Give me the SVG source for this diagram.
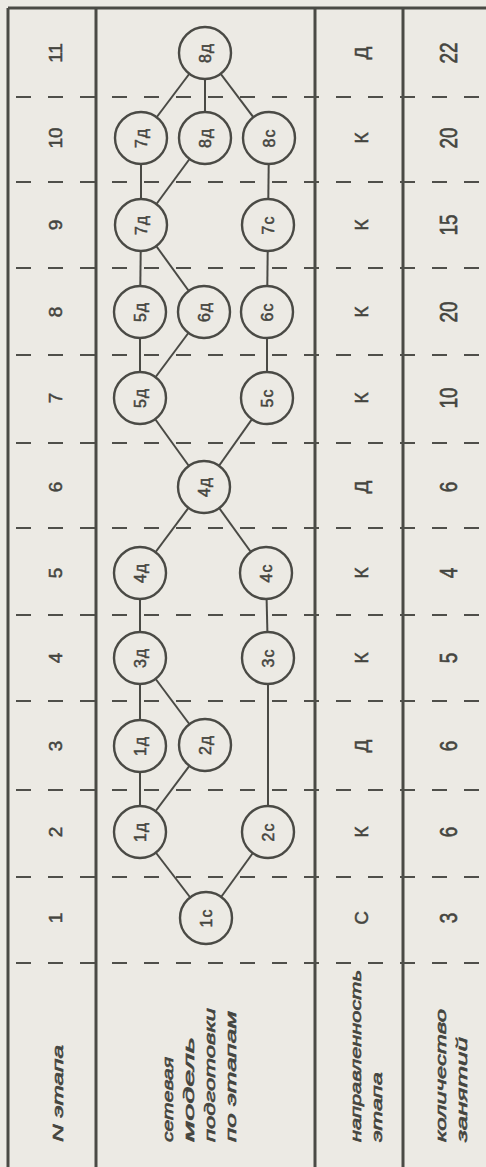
<svg xmlns="http://www.w3.org/2000/svg" width="486" height="1167" viewBox="0 0 486 1167">
<style>
.bg{fill:#eceae4}
.solid{stroke:#4a4a45;stroke-width:3;fill:none}
.dash{stroke:#4f4f4a;stroke-width:2.2;stroke-dasharray:15 17;fill:none}
.edge{stroke:#4a4a45;stroke-width:2;fill:none}
.node circle{fill:#eceae4;stroke:#4a4a45;stroke-width:2.4}
text{font-family:"Liberation Sans",Arial,sans-serif;fill:#45453f;stroke:#45453f;stroke-width:0.5;text-anchor:middle;dominant-baseline:central}
.lbl{font-size:16px;letter-spacing:1px}
.num{font-size:19px}
.dir{font-size:19px}
.cnt{font-size:19px}
.hdr{font-size:15px;font-style:italic;text-anchor:start;stroke-width:0.6}
</style>
<rect class="bg" x="0" y="0" width="486" height="1167"/>
<g id="grid">
<line class="solid" x1="8" y1="8" x2="486" y2="8"/>
<line class="solid" x1="8" y1="8" x2="8" y2="1167"/>
<line class="solid" x1="96" y1="8" x2="96" y2="1167"/>
<line class="solid" x1="315" y1="8" x2="315" y2="1167"/>
<line class="solid" x1="403" y1="8" x2="403" y2="1167"/>
<line class="dash" x1="16" y1="97" x2="486" y2="97"/>
<line class="dash" x1="16" y1="182" x2="486" y2="182"/>
<line class="dash" x1="16" y1="268" x2="486" y2="268"/>
<line class="dash" x1="16" y1="355" x2="486" y2="355"/>
<line class="dash" x1="16" y1="443" x2="486" y2="443"/>
<line class="dash" x1="16" y1="528" x2="486" y2="528"/>
<line class="dash" x1="16" y1="615" x2="486" y2="615"/>
<line class="dash" x1="16" y1="701" x2="486" y2="701"/>
<line class="dash" x1="16" y1="790" x2="486" y2="790"/>
<line class="dash" x1="16" y1="877" x2="486" y2="877"/>
<line class="dash" x1="16" y1="963" x2="486" y2="963"/>
</g>
<g id="headers">
<text class="hdr" transform="translate(57 1142) rotate(-90)" textLength="97" lengthAdjust="spacingAndGlyphs">N этапа</text>
<text class="hdr" transform="translate(167 1142) rotate(-90)" textLength="85" lengthAdjust="spacingAndGlyphs">сетевая</text>
<text class="hdr" transform="translate(188 1142) rotate(-90)" textLength="105" lengthAdjust="spacingAndGlyphs">модель</text>
<text class="hdr" transform="translate(209 1142) rotate(-90)" textLength="134" lengthAdjust="spacingAndGlyphs">подготовки</text>
<text class="hdr" transform="translate(230 1142) rotate(-90)" textLength="131" lengthAdjust="spacingAndGlyphs">по этапам</text>
<text class="hdr" transform="translate(355 1142) rotate(-90)" textLength="172" lengthAdjust="spacingAndGlyphs">направленность</text>
<text class="hdr" transform="translate(376 1142) rotate(-90)" textLength="70" lengthAdjust="spacingAndGlyphs">этапа</text>
<text class="hdr" transform="translate(440 1142) rotate(-90)" textLength="133" lengthAdjust="spacingAndGlyphs">количество</text>
<text class="hdr" transform="translate(461 1142) rotate(-90)" textLength="105" lengthAdjust="spacingAndGlyphs">занятий</text>
</g>
<g id="stage-numbers">
<text class="num" transform="translate(55 53) rotate(-90)">11</text>
<text class="num" transform="translate(55 138) rotate(-90)">10</text>
<text class="num" transform="translate(55 225) rotate(-90)">9</text>
<text class="num" transform="translate(55 312) rotate(-90)">8</text>
<text class="num" transform="translate(55 398) rotate(-90)">7</text>
<text class="num" transform="translate(55 487) rotate(-90)">6</text>
<text class="num" transform="translate(55 573) rotate(-90)">5</text>
<text class="num" transform="translate(55 658) rotate(-90)">4</text>
<text class="num" transform="translate(55 746) rotate(-90)">3</text>
<text class="num" transform="translate(55 832) rotate(-90)">2</text>
<text class="num" transform="translate(55 918) rotate(-90)">1</text>
</g>
<g id="direction">
<text class="dir" transform="translate(361 53) rotate(-90)">Д</text>
<text class="dir" transform="translate(361 138) rotate(-90)">К</text>
<text class="dir" transform="translate(361 225) rotate(-90)">К</text>
<text class="dir" transform="translate(361 312) rotate(-90)">К</text>
<text class="dir" transform="translate(361 398) rotate(-90)">К</text>
<text class="dir" transform="translate(361 487) rotate(-90)">Д</text>
<text class="dir" transform="translate(361 573) rotate(-90)">К</text>
<text class="dir" transform="translate(361 658) rotate(-90)">К</text>
<text class="dir" transform="translate(361 746) rotate(-90)">Д</text>
<text class="dir" transform="translate(361 832) rotate(-90)">К</text>
<text class="dir" transform="translate(361 918) rotate(-90)">С</text>
</g>
<g id="sessions">
<text class="cnt" transform="translate(449 53) rotate(-90) scale(1 1.3)">22</text>
<text class="cnt" transform="translate(449 138) rotate(-90) scale(1 1.3)">20</text>
<text class="cnt" transform="translate(449 225) rotate(-90) scale(1 1.3)">15</text>
<text class="cnt" transform="translate(449 312) rotate(-90) scale(1 1.3)">20</text>
<text class="cnt" transform="translate(449 398) rotate(-90) scale(1 1.3)">10</text>
<text class="cnt" transform="translate(449 487) rotate(-90) scale(1 1.3)">6</text>
<text class="cnt" transform="translate(449 573) rotate(-90) scale(1 1.3)">4</text>
<text class="cnt" transform="translate(449 658) rotate(-90) scale(1 1.3)">5</text>
<text class="cnt" transform="translate(449 746) rotate(-90) scale(1 1.3)">6</text>
<text class="cnt" transform="translate(449 832) rotate(-90) scale(1 1.3)">6</text>
<text class="cnt" transform="translate(449 918) rotate(-90) scale(1 1.3)">3</text>
</g>
<g id="connectors">
<line class="edge" x1="205" y1="53" x2="141" y2="138"/>
<line class="edge" x1="205" y1="53" x2="205" y2="138"/>
<line class="edge" x1="205" y1="53" x2="269" y2="138"/>
<line class="edge" x1="141" y1="138" x2="141" y2="225"/>
<line class="edge" x1="205" y1="138" x2="141" y2="225"/>
<line class="edge" x1="269" y1="138" x2="268" y2="225"/>
<line class="edge" x1="141" y1="225" x2="140" y2="312"/>
<line class="edge" x1="141" y1="225" x2="204" y2="312"/>
<line class="edge" x1="268" y1="225" x2="267" y2="312"/>
<line class="edge" x1="140" y1="312" x2="140" y2="398"/>
<line class="edge" x1="204" y1="312" x2="140" y2="398"/>
<line class="edge" x1="267" y1="312" x2="267" y2="398"/>
<line class="edge" x1="140" y1="398" x2="204" y2="487"/>
<line class="edge" x1="267" y1="398" x2="204" y2="487"/>
<line class="edge" x1="204" y1="487" x2="140" y2="573"/>
<line class="edge" x1="204" y1="487" x2="266" y2="573"/>
<line class="edge" x1="140" y1="573" x2="140" y2="658"/>
<line class="edge" x1="266" y1="573" x2="268" y2="658"/>
<line class="edge" x1="140" y1="658" x2="140" y2="746"/>
<line class="edge" x1="140" y1="658" x2="205" y2="745"/>
<line class="edge" x1="268" y1="658" x2="268" y2="832"/>
<line class="edge" x1="140" y1="746" x2="140" y2="832"/>
<line class="edge" x1="205" y1="745" x2="140" y2="832"/>
<line class="edge" x1="140" y1="832" x2="206" y2="918"/>
<line class="edge" x1="268" y1="832" x2="206" y2="918"/>
</g>
<g id="n11-8d" class="node"><circle cx="205" cy="53" r="26"/><text class="lbl" transform="translate(205 53) rotate(-90)">8д</text></g>
<g id="n10-7d" class="node"><circle cx="141" cy="138" r="26"/><text class="lbl" transform="translate(141 138) rotate(-90)">7д</text></g>
<g id="n10-8d" class="node"><circle cx="205" cy="138" r="26"/><text class="lbl" transform="translate(205 138) rotate(-90)">8д</text></g>
<g id="n10-8c" class="node"><circle cx="269" cy="138" r="26"/><text class="lbl" transform="translate(269 138) rotate(-90)">8с</text></g>
<g id="n9-7d" class="node"><circle cx="141" cy="225" r="26"/><text class="lbl" transform="translate(141 225) rotate(-90)">7д</text></g>
<g id="n9-7c" class="node"><circle cx="268" cy="225" r="26"/><text class="lbl" transform="translate(268 225) rotate(-90)">7с</text></g>
<g id="n8-5d" class="node"><circle cx="140" cy="312" r="26"/><text class="lbl" transform="translate(140 312) rotate(-90)">5д</text></g>
<g id="n8-6d" class="node"><circle cx="204" cy="312" r="26"/><text class="lbl" transform="translate(204 312) rotate(-90)">6д</text></g>
<g id="n8-6c" class="node"><circle cx="267" cy="312" r="26"/><text class="lbl" transform="translate(267 312) rotate(-90)">6с</text></g>
<g id="n7-5d" class="node"><circle cx="140" cy="398" r="26"/><text class="lbl" transform="translate(140 398) rotate(-90)">5д</text></g>
<g id="n7-5c" class="node"><circle cx="267" cy="398" r="26"/><text class="lbl" transform="translate(267 398) rotate(-90)">5с</text></g>
<g id="n6-4d" class="node"><circle cx="204" cy="487" r="26"/><text class="lbl" transform="translate(204 487) rotate(-90)">4д</text></g>
<g id="n5-4d" class="node"><circle cx="140" cy="573" r="26"/><text class="lbl" transform="translate(140 573) rotate(-90)">4д</text></g>
<g id="n5-4c" class="node"><circle cx="266" cy="573" r="26"/><text class="lbl" transform="translate(266 573) rotate(-90)">4с</text></g>
<g id="n4-3d" class="node"><circle cx="140" cy="658" r="26"/><text class="lbl" transform="translate(140 658) rotate(-90)">3д</text></g>
<g id="n4-3c" class="node"><circle cx="268" cy="658" r="26"/><text class="lbl" transform="translate(268 658) rotate(-90)">3с</text></g>
<g id="n3-1d" class="node"><circle cx="140" cy="746" r="26"/><text class="lbl" transform="translate(140 746) rotate(-90)">1д</text></g>
<g id="n3-2d" class="node"><circle cx="205" cy="745" r="26"/><text class="lbl" transform="translate(205 745) rotate(-90)">2д</text></g>
<g id="n2-1d" class="node"><circle cx="140" cy="832" r="26"/><text class="lbl" transform="translate(140 832) rotate(-90)">1д</text></g>
<g id="n2-2c" class="node"><circle cx="268" cy="832" r="26"/><text class="lbl" transform="translate(268 832) rotate(-90)">2с</text></g>
<g id="n1-1c" class="node"><circle cx="206" cy="918" r="26"/><text class="lbl" transform="translate(206 918) rotate(-90)">1с</text></g>
</svg>
